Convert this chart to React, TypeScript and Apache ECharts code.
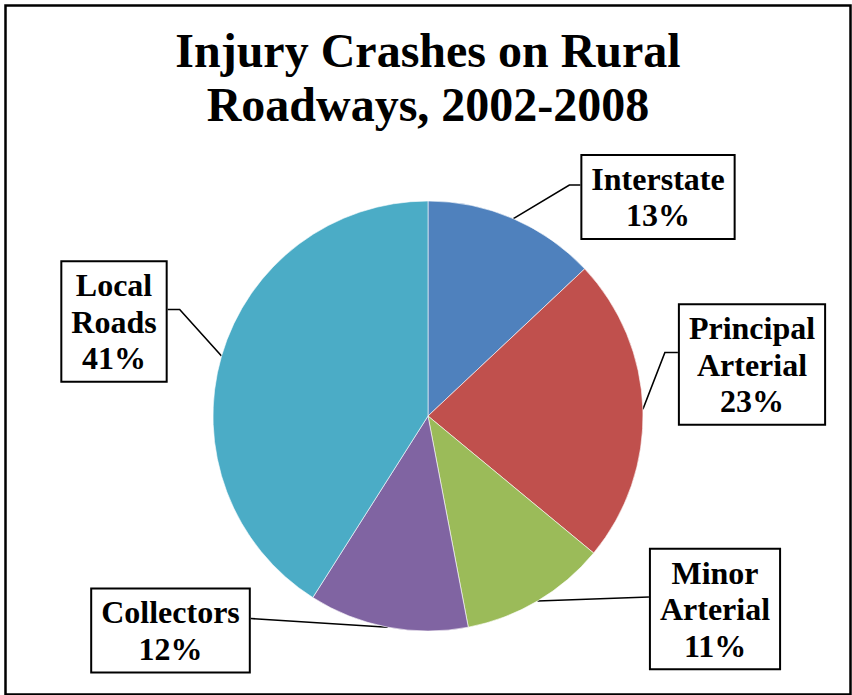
import React, { useEffect, useRef } from 'react';
import * as echarts from 'echarts';

// ---- data ----
const categories = ['Interstate', 'Principal Arterial', 'Minor Arterial', 'Collectors', 'Local Roads'];
const shares = [13, 23, 11, 12, 41];
const sliceColors = ['#4F81BD', '#C0504D', '#9BBB59', '#8064A2', '#4BACC6'];
const titleLines = ['Injury Crashes on Rural', 'Roadways, 2002-2008'];

// ---- label layout (positions only) ----
const labelBoxes = [
  { cx: 658, cy: 197, side: 'left', attachDy: -12, elbow: 11 },
  { cx: 752, cy: 364.5, side: 'left', attachDy: -12, elbow: 13 },
  { cx: 715, cy: 609, side: 'left', attachDy: -12, elbow: 0 },
  { cx: 170.5, cy: 630.5, side: 'right', attachDy: -12, elbow: 0 },
  { cx: 114, cy: 321.5, side: 'right', attachDy: -12, elbow: 12 },
];

const FONT = '"Liberation Serif", "Times New Roman", serif';

export default function App() {
  const ref = useRef<HTMLDivElement>(null);
  useEffect(() => {
    if (!ref.current) return;
    const chart = echarts.init(ref.current, undefined, { renderer: 'svg' });
    chart.setOption({
      animation: false,
      backgroundColor: '#ffffff',
      title: {
        text: titleLines.join('\n'),
        left: 423,
        top: 18,
        textAlign: 'center',
        textStyle: {
          fontFamily: FONT,
          fontWeight: 'bold',
          fontSize: 48,
          lineHeight: 54,
          color: '#000',
        },
      },
      graphic: [
        {
          type: 'rect',
          left: 3,
          top: 3,
          shape: { width: 845, height: 689 },
          style: { fill: 'none', stroke: '#000', lineWidth: 2.5 },
          silent: true,
        },
      ],
      series: [
        {
          type: 'pie',
          center: [428, 416],
          radius: 215,
          startAngle: 90,
          clockwise: true,
          avoidLabelOverlap: false,
          emphasis: { disabled: true },
          itemStyle: { borderColor: '#ffffff', borderWidth: 0.6 },
          data: categories.map((name, i) => ({
            name,
            value: shares[i],
            itemStyle: { color: sliceColors[i] },
          })),
          label: {
            show: true,
            position: 'outside',
            formatter: (p: any) => `${String(p.name).replace(' ', '\n')}\n${Math.round(p.percent)}%`,
            fontFamily: FONT,
            fontWeight: 'bold',
            fontSize: 32,
            lineHeight: 36.5,
            color: '#000',
            align: 'center',
            backgroundColor: '#ffffff',
            borderColor: '#000',
            borderWidth: 2,
            padding: [5, 9, 4, 9],
          },
          labelLine: {
            show: true,
            length: 20,
            length2: 12,
            lineStyle: { color: '#000', width: 1.6 },
          },
          labelLayout: (params: any) => {
            const b = labelBoxes[params.dataIndex];
            const w = params.labelRect.width;
            const ax = b.side === 'left' ? b.cx - w / 2 : b.cx + w / 2;
            const ay = b.cy + b.attachDy;
            const ex = b.side === 'left' ? ax - b.elbow : ax + b.elbow;
            const edge = params.labelLinePoints ? params.labelLinePoints[0] : [ex, ay];
            return {
              x: b.cx,
              y: b.cy,
              align: 'center',
              verticalAlign: 'middle',
              labelLinePoints: [edge, [ex, ay], [ax, ay]],
            };
          },
        },
      ],
    });
    return () => chart.dispose();
  }, []);
  return (
    <div
      ref={ref}
      style={{ position: 'absolute', left: 0, top: 0, width: 852, height: 695, background: '#fff' }}
    />
  );
}
